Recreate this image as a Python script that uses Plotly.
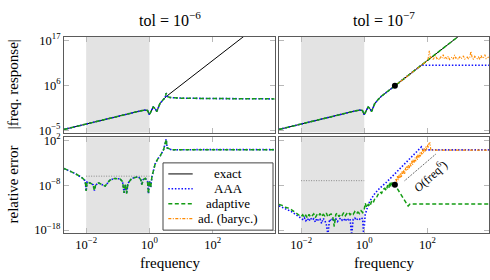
import plotly.graph_objects as go

W, H = 490, 280

# ---------------- data (log10 frequency, log10 value) ----------------
# exact |freq. response| (same system in both columns)
exact_lf = [-2.7, -2.0, -1.5, -1.0, -0.6, -0.3, -0.15, -0.06, 0.0, 0.06, 0.12, 0.18, 0.23, 0.28,
            0.33, 0.44, 0.54, 1.0, 2.0, 3.0, 3.96]
exact_lv = [-4.8, -3.45, -2.5, -1.55, -0.8, -0.3, -0.08, -0.15, -1.2, 0.0, 0.7, 0.3, -0.45, 0.5,
            1.5, 2.5, 3.3, 6.06, 12.06, 18.06, 23.82]

# tol = 1e-6 : AAA and adaptive (coincide)
approx6_lf = [-2.7, -2.0, -1.5, -1.0, -0.6, -0.3, -0.15, -0.06, 0.0, 0.06, 0.12, 0.18, 0.23, 0.28,
              0.33, 0.44, 0.5, 0.53, 0.58, 0.65, 0.8, 1.0, 2.0, 3.0, 3.96]
approx6_lv = [-4.8, -3.45, -2.5, -1.55, -0.8, -0.3, -0.08, -0.15, -1.2, 0.0, 0.7, 0.3, -0.45, 0.5,
              1.5, 2.5, 3.0, 4.07, 3.2, 3.0, 2.9, 2.85, 2.75, 2.7, 2.67]

# tol = 1e-7 : AAA
aaa7_lf = [-2.7, -2.0, -1.5, -1.0, -0.6, -0.3, -0.15, -0.06, 0.0, 0.06, 0.12, 0.18, 0.23, 0.28,
           0.33, 0.44, 0.54, 1.0, 1.5, 1.8, 1.86, 3.96]
aaa7_lv = [-4.8, -3.45, -2.5, -1.55, -0.8, -0.3, -0.08, -0.15, -1.2, 0.0, 0.7, 0.3, -0.45, 0.5,
           1.5, 2.5, 3.3, 6.06, 9.06, 10.86, 10.9, 10.9]

# tol = 1e-7 : ad. (baryc.)
bary7_lf = [0.97, 1.5, 1.98, 2.02, 2.06, 2.10, 2.14, 2.18, 2.22, 2.26, 2.30, 2.34, 2.38, 2.42, 2.46,
            2.50, 2.54, 2.58, 2.62, 2.66, 2.70, 2.74, 2.78, 2.82, 2.86, 2.90, 2.94, 2.98, 3.02,
            3.06, 3.10, 3.14, 3.18, 3.22, 3.26, 3.30, 3.34, 3.38, 3.42, 3.46, 3.50, 3.54, 3.58,
            3.62, 3.66, 3.70, 3.74, 3.78, 3.82, 3.86, 3.90, 3.94]
bary7_lv = [5.88, 9.06, 11.9, 12.4, 14.4, 12.6, 13.0, 12.3, 12.8, 13.3, 12.5, 12.7, 12.2, 13.0,
            12.6, 13.5, 12.4, 12.8, 12.5, 13.1, 12.3, 12.7, 12.9, 12.4, 13.4, 12.6, 12.8, 12.3,
            13.0, 12.5, 12.7, 13.2, 12.4, 12.6, 12.9, 12.5, 12.8, 14.3, 12.6, 12.4, 13.1, 12.7,
            12.5, 12.9, 12.3, 13.3, 12.6, 12.8, 13.5, 12.5, 12.7, 12.9]

# relative error, tol = 1e-6 (AAA and adaptive coincide)
err6_lf = [-2.7, -2.5, -2.35, -2.14, -2.03, -2.0, -1.97, -1.88, -1.78, -1.74, -1.7, -1.61, -1.5,
           -1.4, -1.25, -1.1, -0.93, -0.85, -0.8, -0.76, -0.72, -0.68, -0.56, -0.45, -0.35,
           -0.27, -0.24, -0.2, -0.13, -0.06, -0.03, 0.0, 0.04, 0.08, 0.18, 0.26, 0.34, 0.45,
           0.53, 0.56, 0.7, 1.5, 3.96]
err6_lv = [-4.3, -4.9, -5.4, -6.3, -7.0, -9.3, -7.3, -7.5, -7.9, -9.2, -8.0, -7.5, -7.9,
           -8.2, -6.9, -6.5, -6.6, -7.2, -9.7, -7.8, -9.9, -7.6, -6.5, -6.3, -6.1,
           -6.8, -7.9, -6.8, -6.45, -7.2, -9.9, -7.0, -8.5, -6.1, -3.3, -2.2, -1.5, -0.05,
           2.2, 0.3, -0.15, -0.1, -0.1]

# relative error, tol = 1e-7 : adaptive
ad7_lf = [-2.7, -2.6, -2.5, -2.4, -2.3, -2.2, -2.14, -2.07,
          -2.0, -1.95, -1.9, -1.85, -1.8, -1.75, -1.7, -1.65, -1.6, -1.55, -1.5, -1.45, -1.4,
          -1.35, -1.3, -1.25, -1.2, -1.15, -1.1, -1.05, -1.0, -0.95, -0.9, -0.85, -0.8, -0.75,
          -0.7, -0.65, -0.6, -0.55, -0.5, -0.45, -0.4, -0.35, -0.3, -0.25, -0.2, -0.15, -0.1,
          -0.05, 0.0, 0.03, 0.08, 0.13, 0.18, 0.23, 0.28, 0.34, 0.4, 0.45, 0.5, 0.55, 0.6, 0.65,
          0.7, 0.74, 0.78, 0.81, 0.85, 0.88, 0.92, 0.97, 1.39, 1.45, 3.96]
ad7_lv = [-12.3, -12.5, -12.9, -13.1, -13.5, -14.0, -14.3, -14.7,
          -15.0, -14.6, -15.2, -14.7, -15.3, -14.5, -15.1, -14.8, -14.4, -15.2, -14.6, -14.9, -14.3,
          -15.0, -14.5, -14.8, -14.2, -15.1, -14.6, -14.4, -14.9, -17.2, -14.5, -14.2, -15.0, -14.4,
          -14.7, -14.1, -14.8, -14.3, -14.0, -14.6, -14.2, -14.5, -13.9, -14.4, -14.0, -14.3, -13.7,
          -14.1, -13.4, -12.0, -13.0, -12.2, -12.7, -11.6, -12.0, -10.9, -10.6, -9.9, -9.5, -9.8,
          -8.9, -8.7, -9.2, -8.0, -8.6, -7.3, -8.4, -7.4, -8.2, -7.9, -12.65, -12.2, -12.2]

# relative error, tol = 1e-7 : AAA
aaa7e_lf = [-2.7, -2.6, -2.5, -2.4, -2.3, -2.2, -2.1, -2.0,
            -1.95, -1.9, -1.85, -1.8, -1.75, -1.7, -1.65, -1.6, -1.55, -1.5, -1.45, -1.4, -1.35,
            -1.3, -1.25, -1.2, -1.15, -1.1, -1.05, -1.0, -0.95, -0.9, -0.85, -0.8, -0.75, -0.7,
            -0.65, -0.6, -0.55, -0.5, -0.45, -0.4, -0.35, -0.3, -0.25, -0.2, -0.15, -0.1, -0.05,
            -0.02, 0.03, 0.08, 0.18, 0.34, 0.5, 0.71, 1.0, 1.3, 1.6, 1.81, 1.86, 3.96]
aaa7e_lv = [-12.6, -12.9, -13.2, -13.6, -13.9, -14.4, -14.9, -15.4,
            -15.6, -15.2, -15.9, -15.4, -16.0, -15.3, -15.8, -15.5, -16.2, -15.4, -15.9, -15.6, -16.5,
            -15.4, -15.8, -16.8, -19.0, -15.6, -16.0, -15.4, -15.9, -15.5, -16.1, -15.7, -15.3, -15.8,
            -15.5, -16.0, -15.4, -15.7, -15.5, -19.0, -15.6, -15.3, -15.8, -15.4, -15.6, -15.2, -15.5,
            -19.0, -14.6, -13.4, -11.5, -9.8, -8.6, -7.3, -5.2, -3.1, -1.0, 0.5, -0.15, -0.15]

# relative error, tol = 1e-7 : ad. (baryc.)
bary7e_lf = [0.97, 1.0, 1.03, 1.05, 1.08, 1.1, 1.13, 1.15, 1.18, 1.2, 1.23, 1.25, 1.28, 1.3, 1.33,
             1.35, 1.38, 1.4, 1.43, 1.45, 1.48, 1.5, 1.53, 1.55, 1.58, 1.6, 1.63, 1.65, 1.68, 1.7,
             1.73, 1.75, 1.78, 1.8, 1.83, 1.85, 1.88, 1.9, 1.93, 1.95, 1.98, 2.0, 2.03, 2.05, 2.08,
             2.11, 3.96]
bary7e_lv = [-7.9, -6.5, -7.2, -6.0, -6.9, -5.6, -6.4, -5.3, -6.3, -4.9, -5.6, -4.6, -5.5, -4.1, -4.9,
             -3.8, -4.6, -3.4, -4.2, -3.1, -3.8, -2.6, -3.5, -2.3, -3.1, -1.9, -2.7, -1.5, -2.4, -1.2,
             -2.0, -0.8, -1.6, -0.5, -1.3, -0.1, -0.9, 0.3, -0.5, 0.6, -0.1, 1.0, 0.2, 1.3, 1.4,
             -0.2, -0.2]

# marked point (f ~ 10) and tolerance lines
mark_lf = 0.97
mark_top_lv = 5.88
mark_err_lv = -7.9
tol_left_lv = -6
tol_right_lv = -7
band_f = [1e-2, 1e0]
slope_lf = [1.28, 2.28]
slope_lv = [-7.0, -1.0]

x_tickvals = [1e-2, 1e0, 1e2]
x_ticktext = ["10<sup>−2</sup>", "10<sup>0</sup>", "10<sup>2</sup>"]
ytop_tickvals = [1e-5, 1e6, 1e17]
ytop_ticktext = ["10<sup>−5</sup>", "10<sup>6</sup>", "10<sup>17</sup>"]
ybot_tickvals = [1e-18, 1e-8, 1e2]
ybot_ticktext = ["10<sup>−18</sup>", "10<sup>−8</sup>", "10<sup>2</sup>"]

# ---------------- styles ----------------
BLACK = "black"
BLUE = "#1010ff"
GREEN = "#139c13"
ORANGE = "#ff8a00"
DOT = "1.5px,1.8px"
DASH = "4px,2.5px"
DASHDOT = "3px,1.5px,1px,1.5px"
FONT = "Liberation Serif, Times New Roman, serif"


def p(v):
    return [10 ** e for e in v]


fig = go.Figure()


def line(lf, lv, color, dash, width, xa, ya):
    fig.add_trace(go.Scatter(x=p(lf), y=p(lv), mode="lines", xaxis=xa, yaxis=ya,
                             line=dict(color=color, dash=dash, width=width),
                             showlegend=False, hoverinfo="skip"))


# top-left
line(exact_lf, exact_lv, BLACK, "solid", 1, "x", "y")
line(approx6_lf, approx6_lv, BLUE, DOT, 1.6, "x", "y")
line(approx6_lf, approx6_lv, GREEN, DASH, 1.5, "x", "y")
# top-right
line(exact_lf, exact_lv, BLACK, "solid", 1, "x2", "y2")
line(aaa7_lf, aaa7_lv, BLUE, DOT, 1.6, "x2", "y2")
line(exact_lf, exact_lv, GREEN, DASH, 1.5, "x2", "y2")
line(bary7_lf, bary7_lv, ORANGE, DASHDOT, 1.1, "x2", "y2")
# bottom-left
line([-2, 0], [tol_left_lv, tol_left_lv], "#888888", "1px,1.5px", 1, "x3", "y3")
line(err6_lf, err6_lv, BLUE, DOT, 1.6, "x3", "y3")
line(err6_lf, err6_lv, GREEN, DASH, 1.5, "x3", "y3")
# bottom-right
line([-2, 0], [tol_right_lv, tol_right_lv], "#888888", "1px,1.5px", 1, "x4", "y4")
line(aaa7e_lf, aaa7e_lv, BLUE, DOT, 1.6, "x4", "y4")
line(ad7_lf, ad7_lv, GREEN, DASH, 1.5, "x4", "y4")
line(bary7e_lf, bary7e_lv, ORANGE, DASHDOT, 1.1, "x4", "y4")
line(slope_lf, slope_lv, BLACK, "1px,1.2px", 0.8, "x4", "y4")

for xa, ya, lv in (("x2", "y2", mark_top_lv), ("x4", "y4", mark_err_lv)):
    fig.add_trace(go.Scatter(x=[10 ** mark_lf], y=[10 ** lv], mode="markers", xaxis=xa,
                             yaxis=ya, marker=dict(color="black", size=6), showlegend=False,
                             hoverinfo="skip"))

# ---------------- axes ----------------
xl = [64 / W, 274.7 / W]
xr = [279 / W, 489.3 / W]
yt = [1 - 131.7 / H, 1 - 32 / H]
yb = [1 - 236 / H, 1 - 136.7 / H]

common = dict(type="log", showline=True, mirror="ticks", linecolor="#5a5a5a", linewidth=1,
              ticks="inside", ticklen=5, tickwidth=1, tickcolor="#b8b8b8", showgrid=False,
              zeroline=False, tickfont=dict(family=FONT, size=12.5, color="black"))


def xax(dom, anchor, labels):
    return dict(common, domain=dom, anchor=anchor, range=[-2.7, 3.96], tickvals=x_tickvals,
                ticktext=x_ticktext, showticklabels=labels)


def yax(dom, anchor, rng, tv, tt, labels):
    return dict(common, domain=dom, anchor=anchor, range=rng, tickvals=tv, ticktext=tt,
                showticklabels=labels)


fig.update_layout(
    width=W, height=H, margin=dict(l=0, r=0, t=0, b=0),
    paper_bgcolor="white", plot_bgcolor="white", showlegend=False,
    font=dict(family=FONT, size=13, color="black"),
    xaxis=xax(xl, "y", False), yaxis=yax(yt, "x", [-5.56, 17.87], ytop_tickvals, ytop_ticktext, True),
    xaxis2=xax(xr, "y2", False), yaxis2=yax(yt, "x2", [-5.56, 17.87], ytop_tickvals, ytop_ticktext, False),
    xaxis3=xax(xl, "y3", True), yaxis3=yax(yb, "x3", [-18.58, 2.64], ybot_tickvals, ybot_ticktext, True),
    xaxis4=xax(xr, "y4", True), yaxis4=yax(yb, "x4", [-18.58, 2.64], ybot_tickvals, ybot_ticktext, False),
)

shapes = []
for xa, ya in (("x", "y"), ("x2", "y2"), ("x3", "y3"), ("x4", "y4")):
    shapes.append(dict(type="rect", xref=xa, yref=ya + " domain", x0=band_f[0], x1=band_f[1],
                       y0=0, y1=1, fillcolor="#e3e3e3", line=dict(width=0), layer="below"))

# legend (drawn by hand, pgfplots style with centred text)
lx0, lx1, ly0, ly1 = 163, 273, 163.3, 233.3
shapes.append(dict(type="rect", xref="paper", yref="paper", x0=lx0 / W, x1=lx1 / W,
                   y0=1 - ly1 / H, y1=1 - ly0 / H, fillcolor="white",
                   line=dict(color="#444444", width=1), layer="above"))
legend_names = ["exact", "AAA", "adaptive", "ad. (baryc.)"]
legend_styles = [(BLACK, "solid", 1), (BLUE, DOT, 1.6), (GREEN, DASH, 1.5), (ORANGE, DASHDOT, 1.1)]
rows = [174.8, 190.3, 205.8, 221.3]
annotations = []
for name, (c, d, w), ry in zip(legend_names, legend_styles, rows):
    shapes.append(dict(type="line", xref="paper", yref="paper", x0=168.3 / W, x1=192.7 / W,
                       y0=1 - ry / H, y1=1 - ry / H, line=dict(color=c, dash=d, width=w),
                       layer="above"))
    annotations.append(dict(text=name, xref="paper", yref="paper", x=228 / W, y=1 - ry / H,
                            xanchor="center", yanchor="middle", showarrow=False,
                            font=dict(family=FONT, size=13)))

# titles and labels
annotations += [
    dict(text="tol = 10<sup>−6</sup>", x=169.5 / W, y=1 - 14 / H, font=dict(family=FONT, size=16)),
    dict(text="tol = 10<sup>−7</sup>", x=384 / W, y=1 - 14 / H, font=dict(family=FONT, size=16)),
    dict(text="frequency", x=169.5 / W, y=1 - 267.3 / H, font=dict(family=FONT, size=15)),
    dict(text="frequency", x=384 / W, y=1 - 267.3 / H, font=dict(family=FONT, size=15)),
    dict(text="|freq. response|", x=12.5 / W, y=1 - 82 / H, textangle=-90,
         font=dict(family=FONT, size=15)),
    dict(text="relative error", x=12.5 / W, y=1 - 186.3 / H, textangle=-90,
         font=dict(family=FONT, size=15)),
]
for a in annotations[-6:]:
    a.update(xref="paper", yref="paper", xanchor="center", yanchor="middle", showarrow=False)
annotations.append(dict(text="<i>O</i>(freq<sup>6</sup>)", xref="x4", yref="y4", x=2.07, y=-5.97,
                        textangle=-41.6, showarrow=False, xanchor="center", yanchor="middle",
                        font=dict(family=FONT, size=12)))

fig.update_layout(shapes=shapes, annotations=annotations)
fig.write_html("out.html", config={"displayModeBar": False},
               post_script="document.body.style.margin='0px';document.body.style.overflow='hidden';")
